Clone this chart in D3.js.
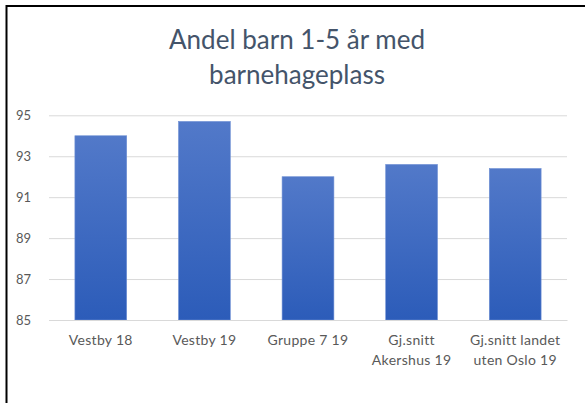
<!DOCTYPE html>
<html>
<head>
<meta charset="utf-8">
<script src="https://cdn.jsdelivr.net/npm/d3@7"></script>
<style>
  html, body { margin: 0; padding: 0; background: #fff; }
  svg { display: block; }
</style>
</head>
<body>
<svg id="chart" width="585" height="403"></svg>
<script>
const titleLines = ["Andel barn 1-5 år med", "barnehageplass"];
const categories = ["Vestby 18", "Vestby 19", "Gruppe 7 19", "Gj.snitt\nAkershus 19", "Gj.snitt landet\nuten Oslo 19"];
const values = [94.0, 94.7, 92.0, 92.6, 92.4];
const yTicks = [85, 87, 89, 91, 93, 95];

const svg = d3.select("#chart");
const font = "Lato, 'Open Sans', sans-serif";

// outer chart border
svg.append("rect")
  .attr("x", 6.5).attr("y", 6)
  .attr("width", 620).attr("height", 420)
  .attr("fill", "#fff")
  .attr("stroke", "#000").attr("stroke-width", 2);

const x = d3.scaleBand().domain(categories).range([49, 567]).paddingInner(0.5).paddingOuter(0.25);
const y = d3.scaleLinear().domain([85, 95]).range([320, 115.3]);

// gradient
const defs = svg.append("defs");
const grad = defs.append("linearGradient").attr("id", "barGrad")
  .attr("x1", 0).attr("y1", 0).attr("x2", 0).attr("y2", 1);
grad.append("stop").attr("offset", "0%").attr("stop-color", "#5279c9");
grad.append("stop").attr("offset", "100%").attr("stop-color", "#2c5cb9");

// title
svg.append("text")
  .attr("x", 297).attr("y", 49)
  .attr("text-anchor", "middle")
  .attr("font-family", font).attr("font-size", 26)
  .attr("fill", "#44546a")
  .selectAll("tspan").data(titleLines).join("tspan")
  .attr("x", 297).attr("dy", (d, i) => i === 0 ? 0 : 35)
  .text(d => d);

// y axis with gridlines
const yAxis = d3.axisLeft(y).tickValues(yTicks).tickSize(-(567 - 49)).tickPadding(18).tickFormat(d3.format("d"));
const gy = svg.append("g").attr("transform", "translate(49,0)").call(yAxis);
gy.select(".domain").remove();
gy.selectAll(".tick line").attr("stroke", "#d9d9d9").attr("stroke-width", 1);
gy.selectAll(".tick text")
  .attr("font-family", font).attr("font-size", 13).attr("fill", "#595959");

// bars
svg.append("g").selectAll("rect").data(values).join("rect")
  .attr("x", (d, i) => x(categories[i]))
  .attr("y", d => y(d))
  .attr("width", x.bandwidth())
  .attr("height", d => y(85) - y(d))
  .attr("fill", "url(#barGrad)")
  .attr("stroke", "#6f90d4").attr("stroke-width", 0.6);

// x axis
const xAxis = d3.axisBottom(x).tickSize(0).tickPadding(0);
const gx = svg.append("g").attr("transform", "translate(0,320)").call(xAxis);
gx.select(".domain").attr("stroke", "#d9d9d9");
gx.selectAll(".tick text").each(function(d) {
  const t = d3.select(this);
  t.text(null)
    .attr("font-family", font).attr("font-size", 14).attr("fill", "#595959")
    .attr("letter-spacing", 0.3)
    .attr("y", 0).attr("dy", null);
  d.split("\n").forEach((line, i) => {
    t.append("tspan").attr("x", 0).attr("y", 25 + i * 20).text(line);
  });
});
</script>
</body>
</html>
